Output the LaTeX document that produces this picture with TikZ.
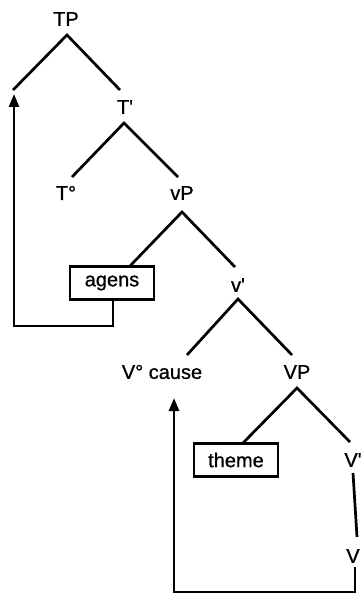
\documentclass[tikz,border=0pt]{standalone}
\usepackage{fontspec}
\setmainfont{Liberation Sans}
\newfontfamily\lblfont[FakeBold=0.9]{Liberation Sans}
\usetikzlibrary{arrows.meta}
\begin{document}
\begin{tikzpicture}[x=1pt,y=-1pt,
  lbl/.style={inner sep=0pt,font=\lblfont\fontsize{20}{24}\selectfont},
  boxed/.style={draw,line width=2.4pt,inner sep=0pt,minimum width=84pt,minimum height=33pt,font=\lblfont\fontsize{20}{24}\selectfont},
  branch/.style={line width=2.7pt},
  mover/.style={line width=2.7pt,-{Triangle[length=13pt,width=10pt]}}]
\useasboundingbox (0,0) rectangle (361,601);
% labels
\node[lbl] (TP) at (66,19) {TP};
\node[lbl] (Tbar) at (125,107) {T\textquotesingle};
\node[lbl] (T0) at (66,193) {T°};
\node[lbl] (vP) at (182,193) {vP};
\node[boxed] (agens) at (112,283) {agens};
\node[lbl] (vbar) at (238,285) {v\textquotesingle};
\node[lbl] (V0) at (162,372) {V° cause};
\node[lbl] (VP) at (297,372) {VP};
\node[boxed] (theme) at (236,460) {theme};
\node[lbl] (Vbar) at (353,460) {V\textquotesingle};
\node[lbl] (V) at (353,556) {V};
% coordinates
\coordinate (tpA) at (67,35);
\coordinate (tpL) at (13,90);
\coordinate (tpR) at (120,90);
\coordinate (tbA) at (124,123);
\coordinate (tbL) at (72,177);
\coordinate (tbR) at (178,177);
\coordinate (vpA) at (182,212);
\coordinate (vpL) at (130,266);
\coordinate (vpR) at (235,267);
\coordinate (vbA) at (238,299);
\coordinate (vbL) at (187,355);
\coordinate (vbR) at (292,355);
\coordinate (VPA) at (297,388);
\coordinate (VPL) at (243,443);
\coordinate (VPR) at (350,442);
\coordinate (VbT) at (353,473);
\coordinate (VbB) at (357,537);
\coordinate (agB) at (113,299);
\coordinate (m1a) at (113,326);
\coordinate (m1b) at (14,326);
\coordinate (m1t) at (14,94);
\coordinate (vB) at (355,567);
\coordinate (m2a) at (355,592);
\coordinate (m2b) at (174,592);
\coordinate (m2t) at (174,398);
% branches
\draw[branch] (tpL) -- (tpA) -- (tpR);
\draw[branch] (tbL) -- (tbA) -- (tbR);
\draw[branch] (vpL) -- (vpA) -- (vpR);
\draw[branch] (vbL) -- (vbA) -- (vbR);
\draw[branch] (VPL) -- (VPA) -- (VPR);
\draw[branch] (VbT) -- (VbB);
% movement arrows
\draw[mover] (agB) -- (m1a) -- (m1b) -- (m1t);
\draw[mover] (vB) -- (m2a) -- (m2b) -- (m2t);
\end{tikzpicture}
\end{document}
